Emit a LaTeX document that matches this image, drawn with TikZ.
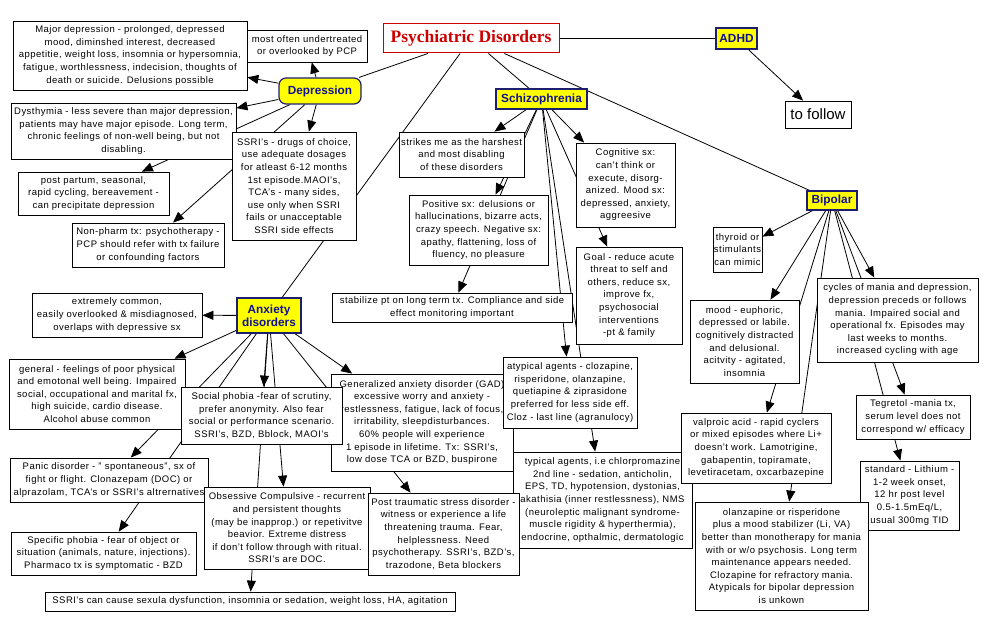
\documentclass[tikz,border=0pt]{standalone}
\usepackage{fontspec}
\setmainfont{Liberation Sans}[LetterSpace=5]
\newfontfamily\cfont{Liberation Sans}
\newfontfamily\titlefont{Liberation Serif}
\usetikzlibrary{arrows.meta,backgrounds}
\definecolor{cyellow}{RGB}{255,255,0}
\definecolor{cblue}{RGB}{16,16,150}
\definecolor{cborder}{RGB}{30,30,110}
\definecolor{tred}{RGB}{204,0,0}
\tikzset{
  box/.style={draw=black, line width=0.8pt, fill=white, inner sep=0pt, align=center,
    font=\fontsize{9.5}{12.6}\selectfont},
  concept/.style={draw=cborder, line width=1.2pt, fill=cyellow, inner sep=0pt, align=center,
    text=cblue, font=\cfont\bfseries\fontsize{11.8}{13.4}\selectfont},
  titlebox/.style={draw=tred, line width=1pt, fill=white, inner sep=0pt, text=tred,
    font=\titlefont\bfseries\fontsize{17.5}{20}\selectfont},
  plainbox/.style={draw=black, line width=0.8pt, fill=white, inner sep=0pt,
    font=\cfont\fontsize{15}{17}\selectfont},
  link/.style={line width=0.8pt, draw=black},
  arr/.style={link, -{Triangle[length=11pt,width=9pt]}},
}
\newcommand\bx[7][box]{\node[#1, minimum width={(#5-#3)*1pt}, minimum height={(#6-#4)*1pt}] (#2) at ({(#3+#5)/2},{(#4+#6)/2}) {#7};}
\begin{document}
\begin{tikzpicture}[x=1pt,y=-1pt]
\useasboundingbox (0,0) rectangle (984,631);
% Depression cluster
\bx{major}{13}{21}{247}{90}{Major depression - prolonged, depressed\\ mood, diminshed interest, decreased\\ appetitie, weight loss, insomnia or hypersomnia,\\ fatigue, worthlessness, indecision, thoughts of\\ death or suicide. Delusions possible}
\bx{often}{247}{30}{367}{62}{most often undertreated\\ or overlooked by PCP}
\bx[concept,rounded corners=7pt]{dep}{279}{78}{361}{104}{Depression}
\bx{dysth}{11}{103}{236}{159}{Dysthymia - less severe than major depression,\\ patients may have major episode. Long term,\\ chronic feelings of non-well being, but not\\ disabling.}
\bx{post}{18}{172}{169}{215}{post partum, seasonal,\\ rapid cycling, bereavement -\\ can precipitate depression}
\bx{ssri}{232}{132}{356}{240}{SSRI's - drugs of choice,\\ use adequate dosages\\ for atleast 6-12 months\\ 1st episode.MAOI's,\\ TCA's - many sides,\\ use only when SSRI\\ fails or unacceptable\\ SSRI side effects}
\bx{nonph}{72}{223}{224}{267}{Non-pharm tx: psychotherapy -\\ PCP should refer with tx failure\\ or confounding factors}
% Title, ADHD
\bx[titlebox]{title}{383}{24}{559}{53}{Psychiatric Disorders}
\bx[concept]{adhd}{716}{28}{757}{49}{ADHD}
\bx[plainbox]{follow}{785}{101}{851}{128}{to follow}
% Schizophrenia
\bx[concept]{schizo}{496}{89}{587}{109}{Schizophrenia}
\bx{strikes}{399}{132}{524}{177}{strikes me as the harshest\\ and most disabling\\ of these disorders}
\bx{cogn}{576}{143}{675}{227}{Cognitive sx:\\ can't think or\\ execute, disorg-\\ anized. Mood sx:\\ depressed, anxiety,\\ aggreesive}
\bx{posit}{409}{195}{548}{265}{Positive sx: delusions or\\ hallucinations, bizarre acts,\\ crazy speech. Negative sx:\\ apathy, flattening, loss of\\ fluency, no pleasure}
\bx{goal}{576}{247}{682}{344}{Goal - reduce acute\\ threat to self and\\ others, reduce sx,\\ improve fx,\\ psychosocial\\ interventions\\ -pt \& family}
\bx{stab}{332}{293}{572}{322}{stabilize pt on long term tx. Compliance and side\\ effect monitoring important}
\bx{gad}{331}{374}{513}{471}{Generalized anxiety disorder (GAD)\\ excessive worry and anxiety -\\ restlessness, fatigue, lack of focus,\\ irritability, sleepdisturbances.\\ 60\% people will experience\\ 1 episode in lifetime. Tx: SSRI's,\\ low dose TCA or BZD, buspirone}
\bx{atyp}{503}{357}{637}{428}{atypical agents - clozapine,\\ risperidone, olanzapine,\\ quetiapine \& ziprasidone\\ preferred for less side eff.\\ Cloz - last line (agranulocy)}
\bx{typ}{513}{452}{692}{548}{typical agents, i.e chlorpromazine\\ 2nd line - sedation, anticholin,\\ EPS, TD, hypotension, dystonias,\\ akathisia (inner restlessness), NMS\\ (neuroleptic malignant syndrome-\\ muscle rigidity \& hyperthermia),\\ endocrine, opthalmic, dermatologic}
% Bipolar
\bx[concept]{bip}{807}{191}{857}{210}{Bipolar}
\bx{thyr}{713}{227}{762}{272}{thyroid or\\ stimulants\\ can mimic}
\bx{cycles}{817}{278}{978}{362}{cycles of mania and depression,\\ depression preceds or follows\\ mania. Impaired social and\\ operational fx. Episodes may\\ last weeks to months.\\ increased cycling with age}
\bx{mood}{690}{300}{799}{383}{mood - euphoric,\\ depressed or labile.\\ cognitively distracted\\ and delusional.\\ acitvity - agitated,\\ insomnia}
\bx{tegr}{856}{395}{970}{439}{Tegretol -mania tx,\\ serum level does not\\ correspond w/ efficacy}
\bx{valp}{681}{413}{831}{483}{valproic acid - rapid cyclers\\ or mixed episodes where Li+\\ doesn't work. Lamotrigine,\\ gabapentin, topiramate,\\ levetiracetam, oxcarbazepine}
\bx{stand}{860}{461}{959}{530}{standard - Lithium -\\ 1-2 week onset,\\ 12 hr post level\\ 0.5-1.5mEq/L,\\ usual 300mg TID}
\bx{olanz}{695}{502}{868}{610}{olanzapine or risperidone\\ plus a mood stabilizer (Li, VA)\\ better than monotherapy for mania\\ with or w/o psychosis. Long term\\ maintenance appears needed.\\ Clozapine for refractory mania.\\ Atypicals for bipolar depression\\ is unkown}
% Anxiety
\bx[concept]{anx}{237}{298}{301}{333}{Anxiety\\ disorders}
\bx{extr}{32}{293}{202}{337}{extremely common,\\ easily overlooked \& misdiagnosed,\\ overlaps with depressive sx}
\bx{gen}{9}{359}{185}{429}{general - feelings of poor physical\\ and emotonal well being. Impaired\\ social, occupational and marital fx,\\ high suicide, cardio disease.\\ Alcohol abuse common}
\bx{social}{181}{387}{342}{444}{Social phobia -fear of scrutiny,\\ prefer anonymity. Also fear\\ social or performance scenario.\\ SSRI's, BZD, Bblock, MAOI's}
\bx{panic}{10}{458}{208}{502}{Panic disorder - " spontaneous", sx of\\ fight or flight. Clonazepam (DOC) or\\ alprazolam, TCA's or SSRI's altrernatives}
\bx{spec}{11}{532}{196}{575}{Specific phobia - fear of object or\\ situation (animals, nature, injections).\\ Pharmaco tx is symptomatic - BZD}
\bx{ocd}{204}{487}{370}{569}{Obsessive Compulsive - recurrent\\ and persistent thoughts\\ (may be inapprop.) or repetivitve\\ beavior. Extreme distress\\ if don't follow through with ritual.\\ SSRI's are DOC.}
\bx{ptsd}{368}{493}{519}{575}{Post traumatic stress disorder -\\ witness or experience a life\\ threatening trauma. Fear,\\ helplessness. Need\\ psychotherapy. SSRI's, BZD's,\\ trazodone, Beta blockers}
\bx{scause}{45}{592}{455}{611}{SSRI's can cause sexula dysfunction, insomnia or sedation, weight loss, HA, agitation}
% connectors
\begin{pgfonlayer}{background}
\fill[white] (0,0) rectangle (984,631);
\draw[link] (title) -- (dep);
\draw[link] (title) -- (anx);
\draw[link] (title) -- (schizo);
\draw[link] (title) -- (bip);
\draw[link] (title) -- (adhd);
\draw[arr] (adhd) -- (follow);
\draw[arr] (dep) -- (major);
\draw[arr] (dep) -- (often);
\draw[arr] (dep) -- (dysth);
\draw[arr] (dep) -- (ssri);
\draw[arr] (dep) -- (post);
\draw[arr] (dep) -- (nonph);
\draw[arr] (schizo) -- (strikes);
\draw[arr] (schizo) -- (posit);
\draw[arr] (schizo) -- (stab);
\draw[arr] (schizo) -- (cogn);
\draw[arr] (schizo) -- (goal);
\draw[arr] (schizo) -- (atyp);
\draw[arr] (schizo) -- (typ);
\draw[arr] (bip) -- (thyr);
\draw[arr] (bip) -- (mood);
\draw[arr] (bip) -- (valp);
\draw[arr] (bip) -- (olanz);
\draw[arr] (bip) -- (cycles);
\draw[arr] (bip) -- (tegr);
\draw[arr] (bip) -- (stand);
\draw[arr] (anx) -- (extr);
\draw[arr] (anx) -- (gen);
\draw[arr] (anx) -- (panic);
\draw[arr] (anx) -- (spec);
\draw[arr] (anx) -- (social);
\draw[arr] (anx) -- (ocd);
\draw[arr] (anx) -- (scause);
\draw[arr] (anx) -- (ptsd);
\draw[arr] (anx) -- (gad);
\end{pgfonlayer}
\end{tikzpicture}
\end{document}
